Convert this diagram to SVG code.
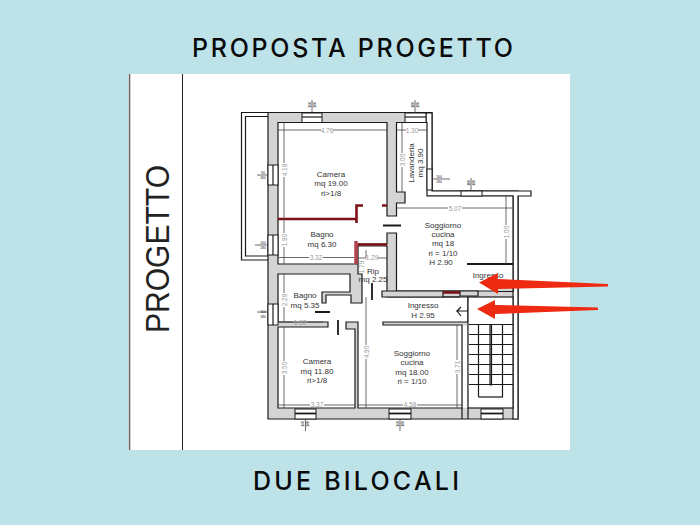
<svg xmlns="http://www.w3.org/2000/svg" width="700" height="525" viewBox="0 0 700 525">
<style>
.ln{fill:none;stroke:#1a1a1a;stroke-width:1.2}
.tk{fill:none;stroke:#1a1a1a;stroke-width:1.8}
.rm{fill:#fff;stroke:#1a1a1a;stroke-width:1.2}
.wl{fill:#d4d4d4;stroke:#1a1a1a;stroke-width:1.2}
.wh{fill:#fff;stroke:#1a1a1a;stroke-width:1.2}
.win{fill:#fff;stroke:#1a1a1a;stroke-width:1}
.dm{fill:none;stroke:#444;stroke-width:.8}
.red{fill:none;stroke:#7c1016;stroke-width:2.6}
.t{font-family:"Liberation Sans",Arial,sans-serif;font-size:8px;fill:#333;text-anchor:middle}
.d{font-family:"Liberation Sans",Arial,sans-serif;font-size:6.5px;fill:#999;text-anchor:middle}
.s{font-family:"Liberation Sans",Arial,sans-serif;font-size:3.4px;fill:#222;text-anchor:middle}
.h{font-family:Inter,"Liberation Sans",sans-serif;font-size:25px;font-weight:500;fill:#0a0a0a}
.ar{fill:#ee2a12}
</style>
<rect width="700" height="525" fill="#bde3e9"/>
<rect x="128" y="74" width="442" height="376" fill="#fff"/>
<path d="M129.500 74V450" stroke="#666" stroke-width="1.600" fill="none"/>
<path d="M182.500 74V450" stroke="#222" stroke-width="1" fill="none"/>
<text class="h" x="192" y="57" textLength="321" lengthAdjust="spacing">PROPOSTA PROGETTO</text>
<text class="h" x="253" y="490" textLength="206" lengthAdjust="spacing">DUE BILOCALI</text>
<text x="169" y="333" transform="rotate(-90 169 333)" textLength="168" lengthAdjust="spacingAndGlyphs" font-family="Liberation Sans, Arial, sans-serif" font-size="33.500" fill="#222">PROGETTO</text>

<g id="balcony">
<path class="ln" d="M268 112.500H241.500V260H268M268 116.500H245.500V256H268"/>
</g>
<g id="walls">
<path class="wl" d="M268 112.500H432V191H518V419H268Z"/>
<path class="wh" d="M426 113H432V191H531V196H518V419H513V196H426Z"/>
<rect x="462.700" y="325.600" width="4.600" height="82" fill="#fff"/>
<path class="ln" d="M468 408V419M462 408V419"/>
</g>
<g id="rooms">
<path class="rm" d="M278 122.500H387V216H396.500V203H405V192H396.500V122.500H427V196H513V291H396.500V233H387V244H358V264H278Z"/>
<path class="rm" d="M278 274H350V292H322V303H326V295H351V303H362V274H358V246H387V297H468V322H383V325H462V408H358V322H346V329H355V408H278V327H328V322H278Z"/>
<rect class="rm" x="468" y="297" width="45" height="111"/>
<path class="wl" d="M382 291H443V297H382ZM460 291H478V296H460ZM497 287H513V291.500H497Z"/>
<path class="ln" d="M443 291H460M443 297H460"/>
<path class="tk" d="M467 264H513"/>
</g>
<g id="windows">
<rect class="win" x="302" y="113" width="20" height="9.500"/><path class="ln" d="M302 117H322"/>
<rect class="win" x="405" y="113" width="21" height="9.500"/><path class="ln" d="M405 117H426"/>
<rect class="win" x="295" y="409" width="21" height="10"/><path class="tk" d="M295 413.500H316"/>
<rect class="win" x="389" y="409" width="22" height="10"/><path class="tk" d="M389 413.500H411"/>
<rect class="win" x="481" y="409" width="22" height="10"/><path class="tk" d="M481 413.500H503"/>
<rect class="win" x="268" y="165" width="10" height="20"/><path class="ln" d="M273 165V185"/>
<rect class="win" x="268" y="235" width="10" height="20"/><path class="ln" d="M273 235V255"/>
<rect class="win" x="268" y="304" width="10" height="21"/><path class="ln" d="M273 304V325"/>
<rect class="win" x="427" y="169" width="5" height="21"/>
<rect class="win" x="461" y="191" width="21" height="5"/>
</g>
<g id="stairs">
<path class="ln" d="M469 324.500H513M469 334.500H513M469 344.500H513M469 354.500H513M469 364.500H513M469 374.500H513M469 384.500H513"/>
<path class="ln" d="M478.500 324V397M490 324V385.500M491.500 324V385.500M502.500 324V397"/>
<path class="ln" d="M478.500 397H503"/>
</g>
<g id="red-walls">
<path class="red" d="M278 219H356M356.500 223V205.500H363M382 205.500H387M358 244.500H387M443 292.500H460"/>
<path d="M356 241V264" stroke="#b5424f" stroke-width="3.500" fill="none"/>
</g>
<g id="connectors">
<path class="tk" d="M383 225.500H401M372 283V300M315 312H330M338 320V335"/>
<path class="ln" d="M468 311H457L461 307M457 311L461 316"/>
<path class="dm" d="M312 100V113M415 100V113M305.500 419V431M400 419V431M257 175H268M255 245H268M257 312H268M432 179H450M471 178V191"/>
<path class="dm" d="M278 130H321M333 130H387M397 130H406M418 130H427M284 122.500V163M284 177V233M284 247V264M278 257.500H309M323 257.500H354M402 122.500V153M402 167V192M397 208H448M462 208H513M506 196V225M506 239V264M366 250V258M358 258H366M378 258H387M284 274V293M284 307V322M278 322H293M307 322H323M284 327V361M284 375V408M278 405H310M324 405H355M358 405H403M417 405H462M366 297V345M366 359V408M457 325V360M457 374V408"/>
</g>
<g id="labels">
<text class="t" x="331" y="177">Camera</text><text class="t" x="331" y="186">mq 19.00</text><text class="t" x="331" y="196">ri&gt;1/8</text>
<text class="t" transform="rotate(-90 414 163)" x="414" y="163">Lavanderia</text><text class="t" transform="rotate(-90 423 163)" x="423" y="163">mq 3.90</text>
<text class="t" x="322" y="237">Bagno</text><text class="t" x="322" y="247">mq 6.30</text>
<text class="t" x="443" y="228">Soggiorno</text><text class="t" x="443" y="237">cucina</text><text class="t" x="443" y="246">mq 18</text><text class="t" x="443" y="256">ri = 1/10</text><text class="t" x="441" y="265">H 2.90</text>
<text class="t" x="488" y="278">Ingresso</text>
<text class="t" x="373" y="274">Rip</text><text class="t" x="373" y="282">mq 2.25</text>
<text class="t" x="305" y="298">Bagno</text><text class="t" x="305" y="308">mq 5.35</text>
<text class="t" x="423" y="308">Ingresso</text><text class="t" x="423" y="318">H 2.95</text>
<text class="t" x="412" y="356">Soggiorno</text><text class="t" x="412" y="365">cucina</text><text class="t" x="412" y="375">mq 18.00</text><text class="t" x="412" y="384">ri = 1/10</text>
<text class="t" x="317" y="364">Camera</text><text class="t" x="317" y="374">mq 11.80</text><text class="t" x="317" y="383">ri&gt;1/8</text>
<text class="d" x="327" y="133">4.76</text><text class="d" x="412" y="133">1.30</text><text class="d" x="455" y="211">5.07</text>
<text class="d" x="316" y="260">3.32</text><text class="d" x="372" y="260">1.29</text><text class="d" x="300" y="325">1.92</text><text class="d" x="317" y="407">3.37</text><text class="d" x="410" y="407">4.58</text>
<text class="d" transform="rotate(-90 287 170)" x="287" y="170">4.18</text><text class="d" transform="rotate(-90 287 240)" x="287" y="240">1.90</text>
<text class="d" transform="rotate(-90 404.500 160)" x="404.500" y="160">3.00</text><text class="d" transform="rotate(-90 509 232)" x="509" y="232">1.00</text>
<text class="d" transform="rotate(-90 364 267)" x="364" y="267">1.79</text><text class="d" transform="rotate(-90 287 300)" x="287" y="300">2.28</text>
<text class="d" transform="rotate(-90 287 368)" x="287" y="368">3.50</text><text class="d" transform="rotate(-90 368.500 352)" x="368.500" y="352">4.90</text><text class="d" transform="rotate(-90 459.500 367)" x="459.500" y="367">3.71</text>
<text class="s" x="263" y="174">90</text><text class="s" x="263" y="178.500">260</text>
<text class="s" x="263" y="244">100</text><text class="s" x="263" y="248.500">180</text>
<text class="s" x="263" y="313">100</text><text class="s" x="263" y="317.500">180</text>
<text class="s" x="439" y="178">100</text><text class="s" x="439" y="182.500">180</text>
<text class="s" transform="rotate(-90 310.500 105)" x="310.500" y="105">160</text><text class="s" transform="rotate(-90 315.500 105)" x="315.500" y="105">180</text>
<text class="s" transform="rotate(-90 413.500 105)" x="413.500" y="105">100</text><text class="s" transform="rotate(-90 418.500 105)" x="418.500" y="105">180</text>
<text class="s" transform="rotate(-90 469.500 183)" x="469.500" y="183">100</text><text class="s" transform="rotate(-90 474.500 183)" x="474.500" y="183">180</text>
<text class="s" transform="rotate(-90 304 424)" x="304" y="424">160</text><text class="s" transform="rotate(-90 309 424)" x="309" y="424">180</text>
<text class="s" transform="rotate(-90 398.500 424)" x="398.500" y="424">160</text><text class="s" transform="rotate(-90 403.500 424)" x="403.500" y="424">180</text>
</g>
<g id="arrows">
<path class="ar" d="M479 282.500L498 273L497.500 279L608 284V286.500L498 289L498 294Z"/>
<path class="ar" d="M477 309L495 300L495 305L598 307.500V310L495 314L495 319Z"/>
</g>
</svg>
